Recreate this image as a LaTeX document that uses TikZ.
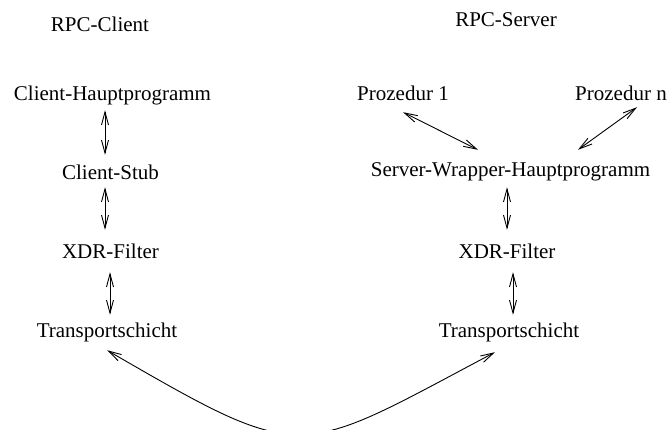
\documentclass[tikz,border=0pt]{standalone}
\usepackage{fontspec}
\setmainfont{Liberation Serif}
\usetikzlibrary{arrows.meta}
\begin{document}
\begin{tikzpicture}[x=1pt,y=-1pt,
  lbl/.style={anchor=base,inner sep=0pt,text height=14pt,text depth=5pt,
              font=\fontsize{21}{25}\selectfont},
  dbl/.style={{Straight Barb[length=13pt,width=7pt]}-{Straight Barb[length=13pt,width=7pt]},
              line width=0.9pt}]
\useasboundingbox (0,0) rectangle (669,429);
\clip (0,0) rectangle (669,429);

% column titles
\node[lbl] (client) at (100,31) {RPC-Client};
\node[lbl] (server) at (506,26) {RPC-Server};

% client side
\node[lbl] (chp) at (112.5,100) {Client-Hauptprogramm};
\node[lbl] (cstub) at (110.5,179) {Client-Stub};
\node[lbl] (cxdr) at (110.5,258) {XDR-Filter};
\node[lbl] (ctr) at (107,337) {Transportschicht};

% server side
\node[lbl] (p1) at (403,100) {Prozedur 1};
\node[lbl] (pn) at (621,100) {Prozedur n};
\node[lbl] (swh) at (510.5,176) {Server-Wrapper-Hauptprogramm};
\node[lbl] (sxdr) at (507,258) {XDR-Filter};
\node[lbl] (str) at (509,337) {Transportschicht};

% client stack
\draw[dbl,shorten <=5pt,shorten >=10pt]
  ([xshift=-7.5pt]chp.south) -- ([xshift=-7.5pt]chp.south |- cstub.north);
\draw[dbl,shorten <=3pt,shorten >=14pt]
  ([xshift=-5.5pt]cstub.south) -- ([xshift=-5.5pt]cstub.south |- cxdr.north);
\draw[dbl,shorten <=9pt,shorten >=8pt]
  ([xshift=-0.5pt]cxdr.south) -- ([xshift=-0.5pt]cxdr.south |- ctr.north);

% server stack
\draw[dbl] ([yshift=-7pt]p1.south) -- ([xshift=-32.5pt,yshift=12pt]swh.north);
\draw[dbl] ([xshift=16pt,yshift=-2pt]pn.south) -- ([xshift=67.5pt,yshift=12pt]swh.north);
\draw[dbl,shorten <=6pt,shorten >=14pt]
  ([xshift=-3.5pt]swh.south) -- ([xshift=-3.5pt]swh.south |- sxdr.north);
\draw[dbl,shorten <=9pt,shorten >=8pt]
  ([xshift=6pt]sxdr.south) -- ([xshift=6pt]sxdr.south |- str.north);

% network link between the transport layers
\draw[dbl] ([yshift=-8pt]ctr.south) .. controls (307,466) and (295,458)
  .. ([xshift=-14pt,yshift=-10pt]str.south);
\end{tikzpicture}
\end{document}
